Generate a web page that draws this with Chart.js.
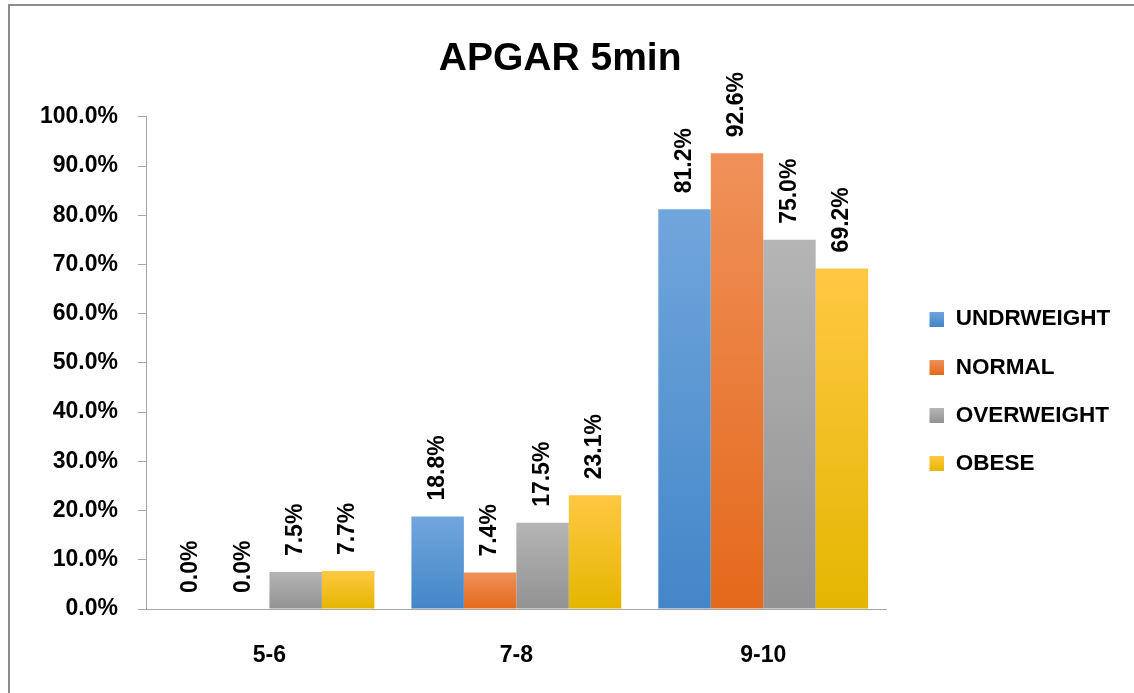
<!DOCTYPE html>
<html>
<head>
<meta charset="utf-8">
<script src="https://cdn.jsdelivr.net/npm/chart.js@4/dist/chart.umd.min.js"></script>
<style>
  html, body { margin: 0; padding: 0; background: #fff; overflow: hidden; }
  #wrap { position: relative; width: 1134px; height: 693px; }
  #c { position: absolute; left: 0; top: 0; }
  #frame { position: absolute; left: 8px; top: 4px; width: 1140px; height: 700px;
           border: 2px solid #8c8c8c; box-sizing: border-box; pointer-events: none; }
</style>
</head>
<body>
<div id="wrap">
  <canvas id="c" width="1134" height="693"></canvas>
  <div id="frame"></div>
</div>
<script>
const categories = ['5-6', '7-8', '9-10'];
const seriesNames = ['UNDRWEIGHT', 'NORMAL', 'OVERWEIGHT', 'OBESE'];
const underweight = [0.0, 18.8, 81.2];
const normal = [0.0, 7.4, 92.6];
const overweight = [7.5, 17.5, 75.0];
const obese = [7.7, 23.1, 69.2];
const yTicks = [0, 10, 20, 30, 40, 50, 60, 70, 80, 90, 100];

const palettes = [
  { top: '#71a6dc', bottom: '#4386c8', mid: '#5b9bd5' },
  { top: '#f0915a', bottom: '#e4691b', mid: '#ed7d31' },
  { top: '#b5b5b5', bottom: '#929292', mid: '#a5a5a5' },
  { top: '#ffc843', bottom: '#e4b600', mid: '#ffc000' }
];

function gradFill(idx) {
  return function (ctx) {
    const p = palettes[idx];
    if (ctx.type !== 'data') return p.mid;
    const chart = ctx.chart;
    const y = chart.scales.y;
    if (!chart.chartArea || !y) return p.mid;
    const top = y.getPixelForValue(ctx.raw);
    const bottom = y.getPixelForValue(0);
    if (!isFinite(top) || !isFinite(bottom) || bottom - top < 1) return p.mid;
    const g = chart.ctx.createLinearGradient(0, top, 0, bottom);
    g.addColorStop(0, p.top);
    g.addColorStop(1, p.bottom);
    return g;
  };
}

// legend marker: a 15px gradient square placed at the right of a wider transparent box
const MARK_W = 32, MARK_SQ = 15;
function makeMarker(idx) {
  const c = document.createElement('canvas');
  c.width = MARK_W; c.height = MARK_SQ;
  const x = c.getContext('2d');
  const g = x.createLinearGradient(0, 0, 0, MARK_SQ);
  g.addColorStop(0, palettes[idx].top);
  g.addColorStop(1, palettes[idx].bottom);
  x.fillStyle = g;
  x.fillRect(MARK_W - MARK_SQ, 0, MARK_SQ, MARK_SQ);
  return c;
}
const markers = palettes.map((p, i) => makeMarker(i));

const seriesData = [underweight, normal, overweight, obese];
const datasets = seriesNames.map((name, i) => ({
  label: name,
  data: seriesData[i],
  backgroundColor: gradFill(i),
  borderWidth: 0
}));

const FONT = "'Liberation Sans', Arial, sans-serif";

const valueLabels = {
  id: 'valueLabels',
  afterDatasetsDraw(chart) {
    const ctx = chart.ctx;
    ctx.save();
    ctx.font = 'bold 23px ' + FONT;
    ctx.fillStyle = '#000';
    ctx.textAlign = 'left';
    ctx.textBaseline = 'middle';
    chart.data.datasets.forEach((ds, di) => {
      const meta = chart.getDatasetMeta(di);
      meta.data.forEach((bar, i) => {
        const v = ds.data[i];
        ctx.save();
        ctx.translate(bar.x, bar.y - 16);
        ctx.rotate(-Math.PI / 2);
        ctx.fillText(v.toFixed(1) + '%', 0, 0);
        ctx.restore();
      });
    });
    ctx.restore();
  }
};

Chart.defaults.color = '#000';
Chart.defaults.font.family = FONT;

new Chart(document.getElementById('c'), {
  type: 'bar',
  data: { labels: categories, datasets },
  options: {
    responsive: false,
    animation: false,
    devicePixelRatio: 1,
    categoryPercentage: 0.85,
    barPercentage: 1.0,
    layout: { padding: { left: 0, right: 13.7, top: 0, bottom: 24 } },
    plugins: {
      title: {
        display: true,
        text: 'APGAR 5min',
        color: '#000',
        font: { size: 39, weight: 'bold', family: FONT },
        padding: { top: 36, bottom: 34 }
      },
      legend: {
        display: true,
        position: 'right',
        align: 'center',
        title: { display: true, text: '', font: { size: 12 }, padding: { top: 99.5, bottom: 0 } },
        labels: {
          usePointStyle: true,
          pointStyleWidth: MARK_W,
          boxWidth: MARK_SQ,
          boxHeight: MARK_SQ,
          padding: 25.8,
          color: '#000',
          font: { size: 22.5, weight: 'bold', family: FONT },
          generateLabels: (chart) => {
            const items = Chart.defaults.plugins.legend.labels.generateLabels(chart);
            items.forEach((it, i) => { it.pointStyle = markers[it.datasetIndex]; it.lineWidth = 0; });
            return items;
          }
        }
      },
      tooltip: { enabled: false }
    },
    scales: {
      x: {
        afterFit: (s) => { s.height = 60; },
        grid: { display: true, drawOnChartArea: false, drawTicks: false },
        border: { display: true, color: '#a6a6a6', width: 1 },
        ticks: { padding: 33, font: { size: 23, weight: 'bold', family: FONT }, color: '#000' }
      },
      y: {
        min: 0,
        max: 100,
        afterBuildTicks: (s) => { s.ticks = yTicks.map(v => ({ value: v })); },
        afterFit: (s) => { s.width = 146; },
        grid: { display: true, drawOnChartArea: false, drawTicks: true, tickLength: 8, color: '#a6a6a6' },
        border: { display: true, color: '#a6a6a6', width: 1 },
        ticks: {
          padding: 20,
          font: { size: 23, weight: 'bold', family: FONT },
          color: '#000',
          callback: (v) => Number(v).toFixed(1) + '%'
        }
      }
    }
  },
  plugins: [valueLabels]
});
</script>
</body>
</html>
